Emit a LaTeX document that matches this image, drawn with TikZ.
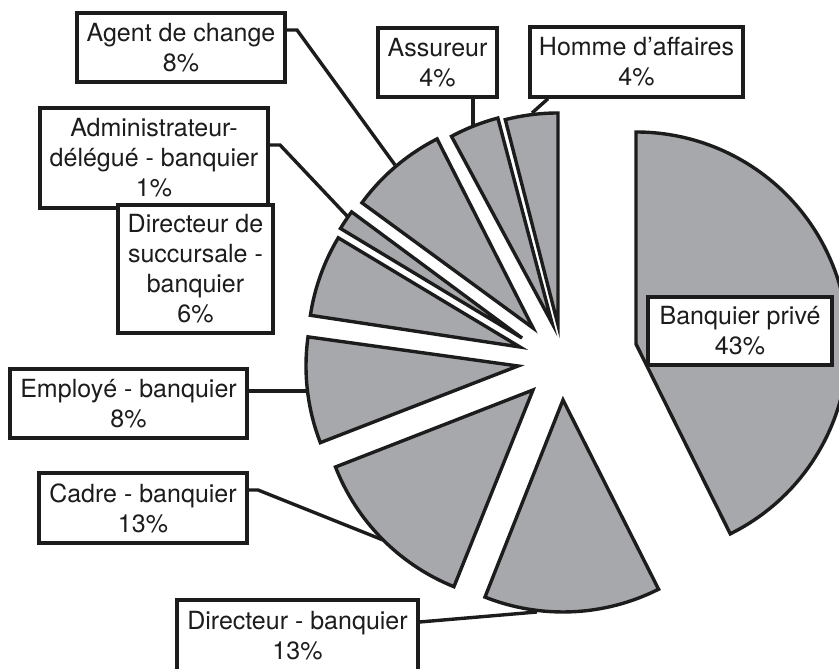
\documentclass[tikz,border=0pt]{standalone}
\usepackage{fontspec}
\setmainfont{TeX Gyre Heros}
\definecolor{slicegray}{RGB}{167,168,172}
\definecolor{ink}{RGB}{28,28,28}
\begin{document}
\begin{tikzpicture}[x=1pt,y=1pt,
  slice/.style={fill=slicegray,draw=ink,line width=3.4pt,line join=miter},
  lab/.style={draw=ink,fill=white,line width=3.4pt,inner sep=0pt,align=center,text=ink,
    font=\fontsize{25}{30}\selectfont},
  lead/.style={draw=ink,line width=3.4pt}]
\useasboundingbox (0,0) rectangle (839,669);
\clip (0,0) rectangle (839,669);
% slice apexes
\coordinate (HAc) at (558,344);
\coordinate (ASc) at (552,346);
\coordinate (AGc) at (533,341);
\coordinate (ADc) at (522,331);
\coordinate (DSc) at (520,322);
\coordinate (EMc) at (518,303);
\coordinate (CAc) at (533,279);
\coordinate (DIc) at (563,269);
\coordinate (BPc) at (636,325);
% slices
\draw[slice] (HAc) -- ++(90:212pt) arc[start angle=90,end angle=104.4,radius=212pt] -- cycle;
\draw[slice] (ASc) -- ++(104.8:212pt) arc[start angle=104.8,end angle=118.3,radius=212pt] -- cycle;
\draw[slice] (AGc) -- ++(116.9:212pt) arc[start angle=116.9,end angle=143.8,radius=212pt] -- cycle;
\draw[slice] (ADc) -- ++(143.5:212pt) arc[start angle=143.5,end angle=148.9,radius=212pt] -- cycle;
\draw[slice] (DSc) -- ++(149:212pt) arc[start angle=149,end angle=171.4,radius=212pt] -- cycle;
\draw[slice] (EMc) -- ++(172.1:212pt) arc[start angle=172.1,end angle=201.2,radius=212pt] -- cycle;
\draw[slice] (CAc) -- ++(201.3:212pt) arc[start angle=201.3,end angle=248.1,radius=212pt] -- cycle;
\draw[slice] (DIc) -- ++(248.4:212pt) arc[start angle=248.4,end angle=296.8,radius=212pt] -- cycle;
\draw[slice] (BPc) -- ++(296.4:212pt) arc[start angle=296.4,end angle=450,radius=212pt] -- cycle;
% connector points
\coordinate (agk) at (297,639);
\coordinate (agt) at (395,504);
\coordinate (ast) at (473,544);
\coordinate (hak) at (548,571);
\coordinate (hat) at (532,556);
\coordinate (adk) at (280,524);
\coordinate (adt) at (348,452);
\coordinate (emt) at (307,278);
\coordinate (cak) at (258,179);
\coordinate (cat) at (383,129);
\coordinate (dit) at (537,57);
% label boxes
\node[lab,minimum width=208pt,minimum height=69pt] (ag) at (181,621.5) {Agent de change\\8\%};
\node[lab,minimum width=119pt,minimum height=69pt] (as) at (437.5,606.5) {Assureur\\4\%};
\node[lab,minimum width=213pt,minimum height=70pt] (ha) at (636.5,607) {Homme d'affaires\\4\%};
\node[lab,minimum width=228pt,minimum height=100pt] (ad) at (154,511) {Administrateur-\\délégué - banquier\\1\%};
\node[lab,minimum width=155pt,minimum height=128pt] (ds) at (195.5,400) {Directeur de\\succursale -\\banquier\\6\%};
\node[lab,minimum width=237pt,minimum height=69pt] (em) at (128.5,265.5) {Employé - banquier\\8\%};
\node[lab,minimum width=208pt,minimum height=70pt] (ca) at (143,161) {Cadre - banquier\\13\%};
\node[lab,minimum width=241pt,minimum height=72pt] (di) at (297.5,33) {Directeur - banquier\\13\%};
\node[lab,minimum width=184pt,minimum height=68pt] (bp) at (740,338) {Banquier privé\\43\%};
% connectors
\draw[lead] (ag.east |- agk) -- (agk) -- (agt);
\draw[lead] (as.south -| ast) -- (ast);
\draw[lead] (ha.south -| hak) -- (hat);
\draw[lead] (ad.east |- adk) -- (adk) -- (adt);
\draw[lead] (em.east |- emt) -- (emt);
\draw[lead] (ca.east |- cak) -- (cak) -- (cat);
\draw[lead] ([yshift=14pt]di.east) -- (dit);
\end{tikzpicture}
\end{document}
